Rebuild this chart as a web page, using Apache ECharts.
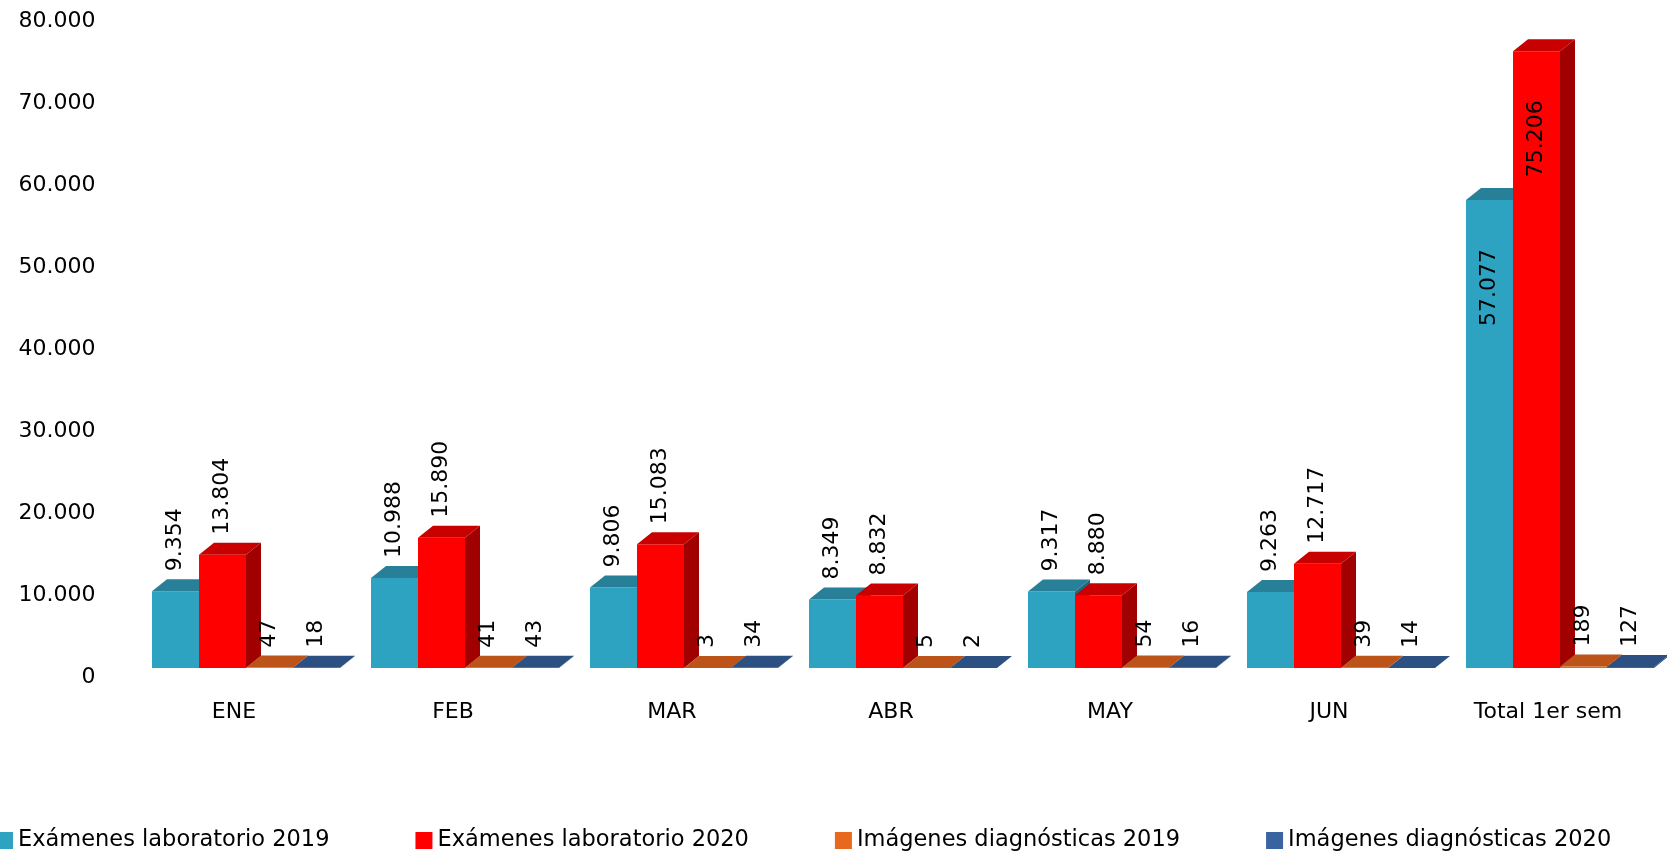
<!DOCTYPE html>
<html>
<head>
<meta charset="utf-8">
<script src="https://cdn.jsdelivr.net/npm/echarts@6/dist/echarts.min.js"></script>
<style>
  html, body { margin: 0; padding: 0; background: #fff; }
  #chart { width: 1667px; height: 853px; }
</style>
</head>
<body>
<div id="chart"></div>
<script>
// datos del gráfico
const categories = ['ENE', 'FEB', 'MAR', 'ABR', 'MAY', 'JUN', 'Total 1er sem'];
const lab2019 = [9354, 10988, 9806, 8349, 9317, 9263, 57077];
const lab2020 = [13804, 15890, 15083, 8832, 8880, 12717, 75206];
const img2019 = [47, 41, 3, 5, 54, 39, 189];
const img2020 = [18, 43, 34, 2, 16, 14, 127];
const seriesNames = ['Exámenes laboratorio 2019', 'Exámenes laboratorio 2020', 'Imágenes diagnósticas 2019', 'Imágenes diagnósticas 2020'];
const yMin = 0, yMax = 80000, yStep = 10000;

// colores: frente, cara superior, lateral
const frontColors = ['#2ea3c1', '#ff0000', '#e8681f', '#3a64a0'];
const topColors = ['#277f98', '#c80000', '#bc5419', '#2d5082'];
const sideColors = ['#1f6a80', '#a00000', '#9a4414', '#243f66'];

const FONT = 'DejaVu Sans';

function fmt(v) {
    return String(v).replace(/\B(?=(\d{3})+(?!\d))/g, '.');
}

// barra pseudo 3D
function renderBar(params, api) {
    const idx = params.seriesIndex;
    const ci = api.value(0);
    const val = api.value(1);
    const base = api.coord([ci, 0]);
    const top = api.coord([ci, val]);
    const band = api.size([1, 0])[0];
    const w = band * 0.2146;
    const x0 = base[0] - band * 0.3744 + idx * w;
    const x1 = x0 + w;
    const dx = 15, dy = 12;
    const yb = base[1], yt = top[1];
    const inside = yt < 250;
    return {
        type: 'group',
        children: [
            {
                type: 'polygon',
                shape: { points: [[x1, yt], [x1 + dx, yt - dy], [x1 + dx, yb - dy], [x1, yb]] },
                style: { fill: sideColors[idx] },
                z2: idx
            },
            {
                type: 'rect',
                shape: { x: x0, y: yt, width: w, height: Math.max(yb - yt, 0) },
                style: { fill: frontColors[idx] },
                z2: idx
            },
            {
                type: 'polygon',
                shape: { points: [[x0, yt], [x1, yt], [x1 + dx, yt - dy], [x0 + dx, yt - dy]] },
                style: { fill: topColors[idx] },
                z2: idx
            },
            {
                type: 'text',
                x: (x0 + x1) / 2,
                y: inside ? yt + 49 : yt - 20,
                rotation: Math.PI / 2,
                style: {
                    text: fmt(val),
                    fill: '#000',
                    font: '22px "' + FONT + '"',
                    align: inside ? 'right' : 'left',
                    verticalAlign: 'middle'
                },
                z2: 100
            }
        ]
    };
}

const allData = [lab2019, lab2020, img2019, img2020];

const chart = echarts.init(document.getElementById('chart'));
chart.setOption({
    backgroundColor: '#fff',
    animation: false,
    grid: {
        left: 124.5,
        right: 9.5,
        top: 12,
        bottom: 185,
        containLabel: false,
        outerBoundsMode: 'none'
    },
    legend: {
        left: -9,
        top: 824,
        icon: 'rect',
        itemWidth: 17,
        itemHeight: 17,
        itemGap: 86,
        textStyle: { fontFamily: FONT, fontSize: 22.5, color: '#000' },
        data: seriesNames
    },
    xAxis: {
        type: 'category',
        data: categories,
        axisLine: { show: false },
        axisTick: { show: false },
        splitLine: { show: false },
        axisLabel: {
            margin: 33,
            color: '#000',
            fontFamily: FONT,
            fontSize: 22
        }
    },
    yAxis: {
        type: 'value',
        min: yMin,
        max: yMax,
        interval: yStep,
        axisLine: { show: false },
        axisTick: { show: false },
        splitLine: { show: false },
        axisLabel: {
            margin: 29,
            color: '#000',
            fontFamily: FONT,
            fontSize: 22,
            verticalAlign: 'top',
            lineHeight: 18,
            formatter: fmt
        }
    },
    series: seriesNames.map((name, i) => ({
        name: name,
        type: 'custom',
        renderItem: renderBar,
        itemStyle: { color: frontColors[i] },
        encode: { x: 0, y: 1 },
        clip: false,
        data: allData[i].map((v, j) => [j, v])
    }))
});
</script>
</body>
</html>
